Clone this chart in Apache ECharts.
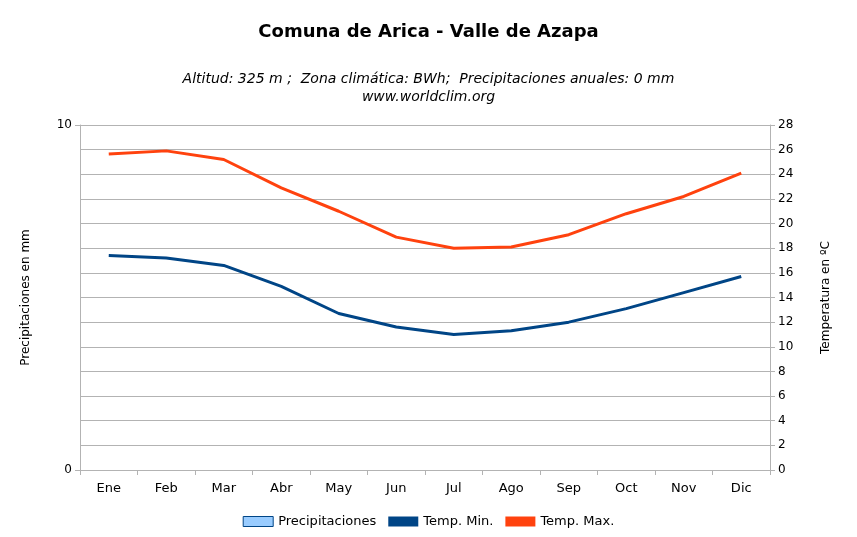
<!DOCTYPE html>
<html><head><meta charset="utf-8">
<script src="https://cdn.jsdelivr.net/npm/echarts@6/dist/echarts.min.js"></script>
<style>html,body{margin:0;background:#fff}#c{width:857px;height:537px}</style>
</head><body><div id="c"></div>
<script>
var months = ['Ene','Feb','Mar','Abr','May','Jun','Jul','Ago','Sep','Oct','Nov','Dic'];
var precip = [0,0,0,0,0,0,0,0,0,0,0,0];
var tMin = [17.4,17.2,16.6,14.9,12.7,11.6,11.0,11.3,12.0,13.1,14.4,15.7];
var tMax = [25.65,25.9,25.2,22.9,21.0,18.9,18.0,18.1,19.1,20.8,22.2,24.1];

var font = 'DejaVu Sans';
var chart = echarts.init(document.getElementById('c'));
chart.setOption({
  animation: false,
  textStyle: {fontFamily: font},
  title: [
    {text: 'Comuna de Arica - Valle de Azapa', left: 'center', top: 18,
     textStyle: {fontFamily: font, fontSize: 18, fontWeight: 'bold', color: '#000'}},
    {text: 'Altitud: 325 m ;  Zona climática: BWh;  Precipitaciones anuales: 0 mm\nwww.worldclim.org',
     left: 'center', top: 65,
     textStyle: {fontFamily: font, fontSize: 14, fontStyle: 'italic', fontWeight: 'normal', color: '#000', lineHeight: 18}}
  ],
  legend: {
    bottom: 4, left: 'center', itemGap: 12, itemWidth: 30, itemHeight: 10,
    textStyle: {fontFamily: font, fontSize: 13, color: '#000'},
    data: [
      {name: 'Precipitaciones', icon: 'rect', itemStyle: {color: '#99ccff', borderColor: '#004586', borderWidth: 1}},
      {name: 'Temp. Min.', icon: 'rect', itemStyle: {color: '#004586'}},
      {name: 'Temp. Max.', icon: 'rect', itemStyle: {color: '#ff420e'}}
    ]
  },
  grid: {left: 80, right: 87, top: 125, bottom: 67},
  xAxis: {
    type: 'category', data: months, boundaryGap: true,
    axisLine: {lineStyle: {color: '#b3b3b3'}},
    axisTick: {show: true, alignWithLabel: false, lineStyle: {color: '#b3b3b3'}},
    axisLabel: {color: '#000', fontSize: 13, margin: 12}
  },
  yAxis: [
    {type: 'value', min: 0, max: 10, interval: 10, position: 'left',
     name: 'Precipitaciones en mm', nameLocation: 'middle', nameGap: 48, nameRotate: 90,
     nameTextStyle: {color: '#000', fontSize: 12},
     axisLine: {show: true, lineStyle: {color: '#b3b3b3'}},
     axisTick: {show: true, lineStyle: {color: '#b3b3b3'}},
     axisLabel: {color: '#000', fontSize: 12},
     splitLine: {show: false}},
    {type: 'value', min: 0, max: 28, interval: 2, position: 'right',
     name: 'Temperatura en ºC', nameLocation: 'middle', nameGap: 50, nameRotate: 90,
     nameTextStyle: {color: '#000', fontSize: 12},
     axisLine: {show: true, lineStyle: {color: '#b3b3b3'}},
     axisTick: {show: true, lineStyle: {color: '#b3b3b3'}},
     axisLabel: {color: '#000', fontSize: 12},
     splitLine: {show: true, lineStyle: {color: '#b3b3b3'}}}
  ],
  series: [
    {name: 'Precipitaciones', type: 'bar', yAxisIndex: 0, data: precip,
     itemStyle: {color: '#99ccff', borderWidth: 0}},
    {name: 'Temp. Min.', type: 'line', yAxisIndex: 1, data: tMin, symbol: 'none',
     lineStyle: {color: '#004586', width: 3}, itemStyle: {color: '#004586'}},
    {name: 'Temp. Max.', type: 'line', yAxisIndex: 1, data: tMax, symbol: 'none',
     lineStyle: {color: '#ff420e', width: 3}, itemStyle: {color: '#ff420e'}}
  ]
});
</script></body></html>
